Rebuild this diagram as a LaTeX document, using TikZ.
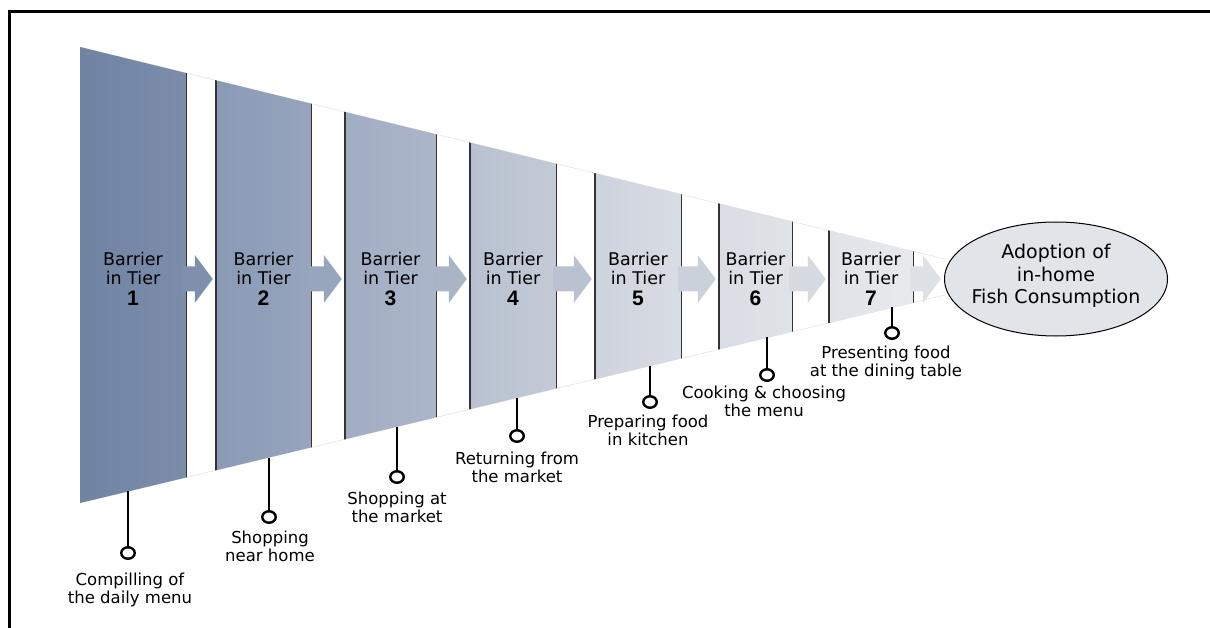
\documentclass[tikz,border=0pt]{standalone}
\usepackage{fontspec}
\setmainfont{DejaVu Sans}
\newfontfamily\tiernumfont{Liberation Sans}
\usetikzlibrary{calc,positioning,shapes.geometric}

\definecolor{tierAl}{HTML}{7083A3}\definecolor{tierAr}{HTML}{7C8DAB}
\definecolor{tierBl}{HTML}{8A9AB5}\definecolor{tierBr}{HTML}{97A5BD}
\definecolor{tierCl}{HTML}{A1ADC3}\definecolor{tierCr}{HTML}{ACB6CA}
\definecolor{tierDl}{HTML}{B8C1D0}\definecolor{tierDr}{HTML}{C4CBD7}
\definecolor{tierEl}{HTML}{CDD3DD}\definecolor{tierEr}{HTML}{D9DDE4}
\definecolor{tierFl}{HTML}{D9DDE4}\definecolor{tierFr}{HTML}{E0E3E8}
\definecolor{tierGl}{HTML}{E0E3E8}\definecolor{tierGr}{HTML}{E7E9ED}
\definecolor{arrA}{HTML}{7F90AD}\definecolor{arrB}{HTML}{97A5BD}
\definecolor{arrC}{HTML}{A9B4C7}\definecolor{arrD}{HTML}{BAC2D1}
\definecolor{arrE}{HTML}{CBD1DB}\definecolor{arrF}{HTML}{D6DAE1}
\definecolor{arrG}{HTML}{DEE1E6}
\definecolor{goalfill}{HTML}{E1E4E9}

\newcommand\tierfont{\fontsize{17.5}{19}\selectfont}
\newcommand\lblfont{\fontsize{16.5}{18}\selectfont}
\newcommand\tiernum[1]{{\tiernumfont\bfseries\fontsize{21}{21}\selectfont #1}}

\begin{document}
\begin{tikzpicture}[x=1pt,y=-1pt,
  tier/.style={minimum height=470pt,inner sep=0pt,align=center,font=\tierfont},
  rim/.style={draw=black!80,line width=1.4pt},
  knob/.style={ellipse,draw,line width=2.4pt,fill=white,minimum width=13.5pt,minimum height=11.5pt,inner sep=0pt},
  lead/.style={line width=2.4pt},
  lbl/.style={anchor=north,align=center,inner sep=0pt,font=\lblfont},
  goalnode/.style={ellipse,draw,line width=1pt,fill=goalfill,minimum width=223pt,minimum height=114pt,inner sep=0pt},
  goaltext/.style={align=center,inner sep=0pt,font=\fontsize{19}{22.5}\selectfont}]
\useasboundingbox (0,0) rectangle (1210,628);
\draw[line width=3pt] (8,11.5) -- (1210,11.5);
\draw[line width=3pt] (9.8,10) -- (9.8,628);
\draw[black!12,line width=0.5pt] (80,47) -- (945,259) (80,503) -- (945,295);
\begin{scope}
\clip (80,47) -- (945,259) -- (945,295) -- (80,503) -- cycle;
\node[tier,minimum width=106pt,left color=tierAl,right color=tierAr] (p1) at (133,279) {Barrier\\in Tier\\[2pt]\tiernum{1}};
\node[tier,minimum width=95pt,left color=tierBl,right color=tierBr] (p2) at (263.5,279) {Barrier\\in Tier\\[2pt]\tiernum{2}};
\node[tier,minimum width=91pt,left color=tierCl,right color=tierCr] (p3) at (390.5,279) {Barrier\\in Tier\\[2pt]\tiernum{3}};
\node[tier,minimum width=86pt,left color=tierDl,right color=tierDr] (p4) at (513,279) {Barrier\\in Tier\\[2pt]\tiernum{4}};
\node[tier,minimum width=86pt,left color=tierEl,right color=tierEr] (p5) at (638,279) {Barrier\\in Tier\\[2pt]\tiernum{5}};
\node[tier,minimum width=73pt,left color=tierFl,right color=tierFr] (p6) at (755.5,279) {Barrier\\in Tier\\[2pt]\tiernum{6}};
\node[tier,minimum width=84pt,left color=tierGl,right color=tierGr] (p7) at (871,279) {Barrier\\in Tier\\[2pt]\tiernum{7}};
\foreach \p in {p2,p3,p4,p5,p6,p7}
  \draw[rim] (\p.north west) -- (\p.south west);
\foreach \p in {p1,p2,p3,p4,p5,p6,p7}
  \draw[rim] (\p.north east) -- (\p.south east);
\end{scope}
\node[goalnode] (goal) at (1056,279) {};
\node[goaltext] (goaltxt) at (1056,276) {Adoption of\\in-home\\Fish Consumption};
\foreach \a/\b/\c in {p1/p2/arrA,p2/p3/arrB,p3/p4/arrC,p4/p5/arrD,p5/p6/arrE,p6/p7/arrF,p7/goal/arrG}
  \fill[\c] ($(\a.east)+(-3,-12.5)$) -- ($(\b.west)+(-21,-12.5)$) -- ($(\b.west)+(-21,-24)$)
    -- ($(\b.west)+(-3,0)$) -- ($(\b.west)+(-21,24)$) -- ($(\b.west)+(-21,12.5)$)
    -- ($(\a.east)+(-3,12.5)$) -- cycle;
\foreach \i/\x/\yb/\yc in {1/128/491.4/553,2/269/457.5/517,3/397/426.6/477,4/517/397.7/436,5/650/365.6/402,6/767/337.4/375,7/892/307.3/333} {
  \coordinate (b\i) at (\x,\yb);
  \node[knob] (c\i) at (\x,\yc) {};
  \draw[lead] (b\i) -- (c\i);
}
\node[lbl] (l1) at (130,573) {Compilling of\\the daily menu};
\node[lbl] (l2) at (270,531) {Shopping\\near home};
\node[lbl] (l3) at (397,492) {Shopping at\\the market};
\node[lbl] (l4) at (517,452) {Returning from\\the market};
\node[lbl] (l5) at (648,415) {Preparing food\\in kitchen};
\node[lbl] (l6) at (764,386) {Cooking \& choosing\\the menu};
\node[lbl] (l7) at (886,346) {Presenting food\\at the dining table};
\end{tikzpicture}
\end{document}
